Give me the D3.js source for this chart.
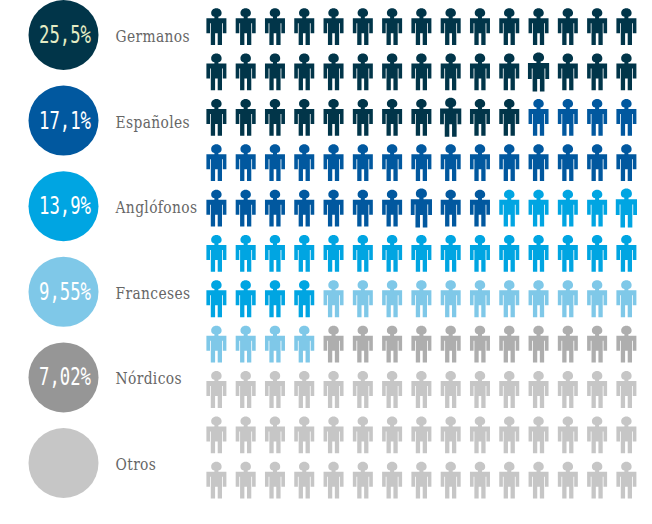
<!DOCTYPE html>
<html lang="es">
<head>
<meta charset="utf-8">
<script src="https://cdn.jsdelivr.net/npm/d3@7/dist/d3.min.js"></script>
<style>
  html, body { margin: 0; padding: 0; background: #fff; }
  svg { display: block; }
</style>
</head>
<body>
<svg id="chart" width="652" height="524"></svg>
<script>
// Language groups, their share and the number of figures each one fills
const groups = ["Germanos", "Españoles", "Anglófonos", "Franceses", "Nórdicos", "Otros"];
const shares = [25.5, 17.1, 13.9, 9.55, 7.02, null];
const figureCounts = [41, 29, 24, 15, 11, 45];
const discColours = ["#013549", "#01589f", "#00a5e2", "#7fc8e8", "#969696", "#c6c6c6"];
const figureColours = ["#013549", "#01589f", "#00a5e2", "#7fc8e8", "#aeaeae", "#c6c6c6"];
const shareColours = ["#e4ecc4", "#ffffff", "#ffffff", "#ffffff", "#ffffff", "#ffffff"];

// Figures printed slightly larger, as row/column pairs
const largerFigures = [[1, 11], [2, 8], [4, 7], [4, 14]];

const columnCount = 15;
const rowCount = 11;

const svg = d3.select("#chart");

const x = d3.scalePoint().domain(d3.range(columnCount)).range([216.4, 626.4]);
const y = d3.scalePoint().domain(d3.range(rowCount)).range([8.2, 461.8]);
const legendY = d3.scalePoint().domain(groups).range([35, 463]);
const colourOf = d3.scaleOrdinal().domain(groups).range(figureColours);

// Figure outline, origin at the top centre of the head
function figurePath() {
  const p = d3.path();
  p.moveTo(-2, 8.6);
  p.bezierCurveTo(-4.6, 8.4, -5.4, 6.2, -5.2, 4.6);
  p.bezierCurveTo(-5.2, 2.4, -3.4, 0, 0, 0);
  p.bezierCurveTo(3.4, 0, 5.2, 2.4, 5.2, 4.6);
  p.bezierCurveTo(5.4, 6.2, 4.6, 8.4, 2, 8.6);
  p.lineTo(2, 10);
  p.lineTo(10, 10);
  p.lineTo(10, 25);
  p.lineTo(6.4, 25);
  p.lineTo(6.4, 15);
  p.lineTo(5.6, 15);
  p.lineTo(5.6, 36.8);
  p.lineTo(1.3, 36.8);
  p.lineTo(1.3, 25);
  p.lineTo(-1.3, 25);
  p.lineTo(-1.3, 36.8);
  p.lineTo(-5.6, 36.8);
  p.lineTo(-5.6, 15);
  p.lineTo(-6.4, 15);
  p.lineTo(-6.4, 25);
  p.lineTo(-10, 25);
  p.lineTo(-10, 10);
  p.lineTo(-2, 10);
  p.closePath();
  return p.toString();
}

// One entry per figure, filled row by row from the top left
const figures = groups.flatMap((group, i) =>
  d3.range(figureCounts[i]).map(() => group)
).map((group, index) => ({
  group,
  row: Math.floor(index / columnCount),
  column: index % columnCount
}));

const isLarger = d => largerFigures.some(([r, c]) => r === d.row && c === d.column);

svg.append("g")
  .selectAll("path")
  .data(figures)
  .join("path")
  .attr("d", figurePath())
  .attr("fill", d => colourOf(d.group))
  .attr("transform", d => {
    const s = isLarger(d) ? 1.06 : 1;
    return `translate(${x(d.column)},${y(d.row) - (s - 1) * 18}) scale(${s})`;
  });

// Legend discs with the share and the group name
const legend = svg.append("g")
  .selectAll("g")
  .data(groups)
  .join("g")
  .attr("transform", d => `translate(63.5,${legendY(d)})`);

legend.append("circle")
  .attr("r", 35)
  .attr("fill", (d, i) => discColours[i]);

legend.append("text")
  .attr("transform", "translate(1.5,8) scale(0.72,1)")
  .attr("text-anchor", "middle")
  .attr("font-family", "'DejaVu Sans Mono', monospace")
  .attr("font-size", 24)
  .attr("fill", (d, i) => shareColours[i])
  .text((d, i) => shares[i] === null ? "" : `${String(shares[i]).replace(".", ",")}%`);

legend.append("text")
  .attr("transform", "translate(52,7) scale(0.96,1)")
  .attr("font-family", "'DejaVu Serif Condensed', 'DejaVu Serif', serif")
  .attr("font-size", 16)
  .attr("letter-spacing", 0.4)
  .attr("fill", "#666666")
  .text(d => d);
</script>
</body>
</html>
